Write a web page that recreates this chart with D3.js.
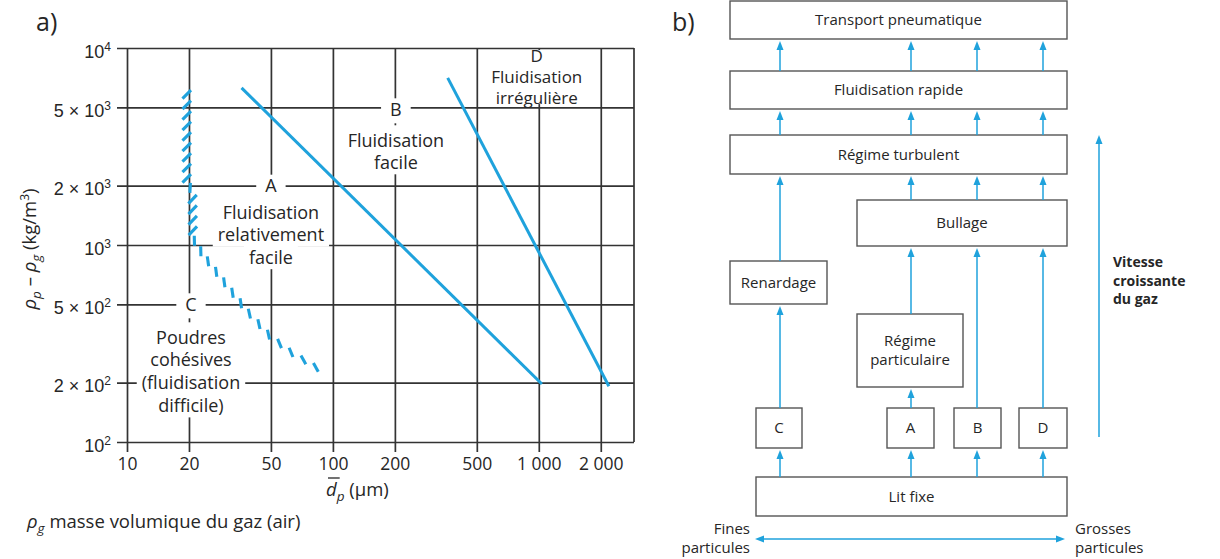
<!DOCTYPE html>
<html>
<head>
<meta charset="utf-8">
<script src="https://cdn.jsdelivr.net/npm/d3@7"></script>
<style>
  body { margin: 0; background: #fff; }
  svg { display: block; font-family: "Open Sans", "Noto Sans", sans-serif; }
</style>
</head>
<body>
<svg id="fig" width="1220" height="559"></svg>
<script>
// ---------- (a) Geldart classification : Δρ versus mean particle size ----------
const xTicks = [10, 20, 50, 100, 200, 500, 1000, 2000];
const xTickLabels = ["10", "20", "50", "100", "200", "500", "1 000", "2 000"];
const yTicks = [1e2, 2e2, 5e2, 1e3, 2e3, 5e3, 1e4];
const yTickMantissa = ["", "2", "5", "", "2", "5", ""];
const yTickExponent = ["2", "2", "2", "3", "3", "3", "4"];

// group boundaries, points as [d_p (µm), ρp − ρg (kg/m3)]
const boundaryAB = [[36, 6270], [1035, 197]];
const boundaryBD = [[361, 7050], [2190, 192]];
const boundaryCA = [[19.5, 6100], [19.5, 2100], [20.8, 1850], [20.9, 1080], [23.4, 890],
                    [26.7, 746], [30.9, 612], [38.3, 462], [49.4, 345], [63.2, 283], [84.5, 236]];

// group labels
const groupLetters = ["A", "B", "C", "D"];
const groupAnchors = [[50, 2000], [200, 5000], [20, 500], [1000, 9100]];
const groupLines = [
  ["Fluidisation", "relativement", "facile"],
  ["Fluidisation", "facile"],
  ["Poudres", "cohésives", "(fluidisation", "difficile)"],
  ["Fluidisation", "irrégulière"]
];

// ---------- (b) regime sequence ----------
const nodeIds = ["tp", "fr", "rt", "bul", "ren", "rp", "C", "A", "B", "D", "lit"];
const nodeLabels = [["Transport pneumatique"], ["Fluidisation rapide"], ["Régime turbulent"],
  ["Bullage"], ["Renardage"], ["Régime", "particulaire"], ["C"], ["A"], ["B"], ["D"], ["Lit fixe"]];
// [from, to, column]
const links = [
  ["lit", "C", "C"], ["lit", "A", "A"], ["lit", "B", "B"], ["lit", "D", "D"],
  ["C", "ren", "C"], ["A", "rp", "A"], ["B", "bul", "B"], ["D", "bul", "D"],
  ["ren", "rt", "C"], ["rp", "bul", "A"],
  ["bul", "rt", "A"], ["bul", "rt", "B"], ["bul", "rt", "D"],
  ["rt", "fr", "C"], ["rt", "fr", "A"], ["rt", "fr", "B"], ["rt", "fr", "D"],
  ["fr", "tp", "C"], ["fr", "tp", "A"], ["fr", "tp", "B"], ["fr", "tp", "D"]
];
const speedLabel = ["Vitesse", "croissante", "du gaz"];
const fineLabel = ["Fines", "particules"];
const coarseLabel = ["Grosses", "particules"];

// ======================================================================
const svg = d3.select("#fig");
const BLUE = "#1fa2dc";
const GRID = "#333";
const TXT = "#262626";

const plot = { left: 127, right: 634, top: 48, bottom: 442 };
const x = d3.scaleLog().domain([10, 2900]).range([plot.left, plot.right]);
const y = d3.scaleLog().domain([100, 10000]).range([plot.bottom, plot.top]);

const ga = svg.append("g");

// panel tag
ga.append("text").attr("x", 36).attr("y", 31).attr("font-size", 25).attr("fill", TXT).text("a)");

// horizontal grid + y ticks
const yAxis = ga.append("g").attr("transform", `translate(${plot.left - 10},0)`)
  .call(d3.axisLeft(y).tickValues(yTicks)
    .tickSizeInner(-(plot.right - plot.left + 10)).tickSizeOuter(0).tickFormat(() => ""));
yAxis.select(".domain").remove();
yAxis.selectAll(".tick line").attr("stroke", GRID).attr("stroke-width", 1.7);
yAxis.selectAll(".tick text").remove();
yAxis.selectAll(".tick").each(function (d, i) {
  const t = d3.select(this).append("text")
    .attr("x", -6).attr("y", 9).attr("text-anchor", "end")
    .attr("font-size", 18).attr("fill", TXT);
  const m = yTickMantissa[i];
  t.append("tspan").text(m ? m + " × 10" : "10");
  t.append("tspan").attr("font-size", 12).attr("dy", -7).text(yTickExponent[i]);
});

// vertical grid + x ticks
const xAxis = ga.append("g").attr("transform", `translate(0,${plot.bottom + 10})`)
  .call(d3.axisBottom(x).tickValues(xTicks)
    .tickSizeInner(-(plot.bottom - plot.top + 10)).tickSizeOuter(0).tickPadding(6)
    .tickFormat((d, i) => xTickLabels[i]));
xAxis.select(".domain").remove();
xAxis.selectAll(".tick line").attr("stroke", GRID).attr("stroke-width", 1.7);
xAxis.selectAll(".tick text").attr("font-size", 17.5).attr("fill", TXT)
  .attr("font-family", "'Open Sans', sans-serif");

// right frame edge
ga.append("line").attr("x1", plot.right).attr("x2", plot.right)
  .attr("y1", plot.top).attr("y2", plot.bottom).attr("stroke", GRID).attr("stroke-width", 1.7);

// group labels with white backing that interrupts the grid
const groupLayout = [
  { fs: 18, dx: 0, letterDy: 0, letterTop: 11, first: 26.5, gap: 22.5, descent: 12 },
  { fs: 18, dx: 1, letterDy: 2, letterTop: 11, first: 31, gap: 22, descent: 12 },
  { fs: 18, dx: 2, letterDy: 0, letterTop: 11, first: 33, gap: 22.7, descent: 12 },
  { fs: 17, dx: -2, letterDy: 0, letterTop: 6, first: 21, gap: 21, descent: 6 }
];
const labelBg = ga.append("g"), labelFg = ga.append("g");
groupLetters.forEach((letter, g) => {
  const L = groupLayout[g];
  const cap = 0.357 * L.fs;
  const cx = x(groupAnchors[g][0]) + L.dx;
  const cy = y(groupAnchors[g][1]) + L.letterDy;
  const lt = labelFg.append("text").attr("x", cx).attr("y", cy + cap)
    .attr("text-anchor", "middle").attr("font-size", L.fs).attr("fill", TXT).text(letter);
  const lw = lt.node().getComputedTextLength();
  labelBg.append("rect").attr("x", cx - lw / 2 - 9).attr("y", cy - L.letterTop)
    .attr("width", lw + 18).attr("height", L.letterTop + 14).attr("fill", "#fff");
  groupLines[g].forEach((line, k) => {
    const ly = cy + L.first + k * L.gap;
    const tt = labelFg.append("text").attr("x", cx).attr("y", ly + cap)
      .attr("text-anchor", "middle").attr("font-size", L.fs).attr("fill", TXT).text(line);
    const w = tt.node().getComputedTextLength();
    labelBg.append("rect").attr("x", cx - w / 2 - 5).attr("y", ly - 15)
      .attr("width", w + 10).attr("height", 15 + L.descent).attr("fill", "#fff");
  });
});

// A/B and B/D boundaries
const line = d3.line().x(d => x(d[0])).y(d => y(d[1]));
[boundaryAB, boundaryBD].forEach(b => {
  ga.append("path").attr("d", line(b)).attr("fill", "none")
    .attr("stroke", BLUE).attr("stroke-width", 3);
});

// C/A boundary drawn as hatch strokes
(function () {
  const pts = boundaryCA.map(d => [x(d[0]), y(d[1])]);
  const segs = [];
  let total = 0;
  for (let i = 0; i < pts.length - 1; i++) {
    const dx = pts[i + 1][0] - pts[i][0], dy = pts[i + 1][1] - pts[i][1];
    const len = Math.hypot(dx, dy);
    segs.push({ p: pts[i], dx, dy, len, s0: total });
    total += len;
  }
  const hatch = [];
  let s = 4;
  while (s <= total) {
    const sg = segs.find(q => s >= q.s0 && s <= q.s0 + q.len) || segs[segs.length - 1];
    const t = (s - sg.s0) / sg.len;
    const px = sg.p[0] + sg.dx * t, py = sg.p[1] + sg.dy * t;
    const theta = Math.atan2(sg.dy, sg.dx);
    const phi = Math.max(1.5 * theta, theta + 30 * Math.PI / 180);
    const half = theta > 1.3 ? 6 : 5;
    hatch.push([px - half * Math.cos(phi), py - half * Math.sin(phi),
                px + half * Math.cos(phi), py + half * Math.sin(phi)]);
    // roughly even vertical pitch, capped along the curve
    s += Math.min(14.5, 10.5 / Math.max(Math.sin(theta), 0.3));
  }
  ga.append("g").selectAll("line").data(hatch).join("line")
    .attr("x1", d => d[0]).attr("y1", d => d[1]).attr("x2", d => d[2]).attr("y2", d => d[3])
    .attr("stroke", BLUE).attr("stroke-width", 3.1);
})();

const TFS = 18.5;
// x axis title  d̄p (µm)
(function () {
  const t = ga.append("text").attr("x", 326).attr("y", 496).attr("font-size", TFS).attr("fill", TXT);
  const d = t.append("tspan").attr("font-style", "italic").text("d");
  t.append("tspan").attr("font-style", "italic").attr("font-size", 13.5).attr("dy", 5).text("p");
  t.append("tspan").attr("dy", -5).text(" (µm)");
  const w = d.node().getComputedTextLength();
  ga.append("line").attr("x1", 328).attr("x2", 326 + w + 3).attr("y1", 478).attr("y2", 478)
    .attr("stroke", TXT).attr("stroke-width", 1.3);
})();

// y axis title  ρp − ρg (kg/m3)
(function () {
  const t = ga.append("text").attr("transform", "translate(36,249) rotate(-90)")
    .attr("text-anchor", "middle").attr("font-size", TFS).attr("fill", TXT);
  t.append("tspan").attr("font-style", "italic").text("ρ");
  t.append("tspan").attr("font-style", "italic").attr("font-size", 13.5).attr("dy", 5).text("p");
  t.append("tspan").attr("dy", -5).text(" – ");
  t.append("tspan").attr("font-style", "italic").text("ρ");
  t.append("tspan").attr("font-style", "italic").attr("font-size", 13.5).attr("dy", 5).text("g");
  t.append("tspan").attr("dy", -5).text(" (kg/m");
  t.append("tspan").attr("font-size", 12).attr("dy", -7).text("3");
  t.append("tspan").attr("dy", 7).text(")");
})();

// footnote
(function () {
  const t = ga.append("text").attr("x", 27).attr("y", 528).attr("font-size", TFS).attr("fill", TXT);
  t.append("tspan").attr("font-style", "italic").text("ρ");
  t.append("tspan").attr("font-style", "italic").attr("font-size", 13.5).attr("dy", 5).text("g");
  t.append("tspan").attr("dy", -5).text(" masse volumique du gaz (air)");
})();

// ======================================================================
// (b) regime diagram
const gb = svg.append("g");
gb.append("text").attr("x", 672).attr("y", 31).attr("font-size", 25).attr("fill", TXT).text("b)");

const boxLayout = {
  tp: [730, 1, 1067, 39], fr: [730, 71, 1067, 109], rt: [730, 135, 1067, 174],
  bul: [857, 200, 1067, 246], ren: [730, 261, 827, 304], rp: [857, 314, 963, 387],
  C: [756, 408, 802, 448], A: [887, 408, 934, 448], B: [954, 408, 1001, 448],
  D: [1019, 408, 1067, 448], lit: [756, 477, 1067, 516]
};
const columnX = { C: 780, A: 911, B: 977, D: 1043 };
const BFS = 15;

nodeIds.forEach((id, i) => {
  const [x0, y0, x1, y1] = boxLayout[id];
  gb.append("rect").attr("x", x0).attr("y", y0).attr("width", x1 - x0).attr("height", y1 - y0)
    .attr("fill", "#fff").attr("stroke", "#555").attr("stroke-width", 1.4);
  const lines = nodeLabels[i];
  const cy = (y0 + y1) / 2, lh = 19;
  lines.forEach((txt, k) => {
    const ly = cy + (k - (lines.length - 1) / 2) * lh;
    gb.append("text").attr("x", (x0 + x1) / 2).attr("y", ly + 0.36 * BFS)
      .attr("text-anchor", "middle").attr("font-size", BFS).attr("fill", TXT).text(txt);
  });
});

function upArrow(g, cx, yFrom, yTip, hw, hl) {
  g.append("line").attr("x1", cx).attr("x2", cx).attr("y1", yFrom).attr("y2", yTip + hl - 1)
    .attr("stroke", BLUE).attr("stroke-width", 1.5);
  g.append("path").attr("d", `M${cx},${yTip}L${cx - hw},${yTip + hl}L${cx + hw},${yTip + hl}Z`)
    .attr("fill", BLUE);
}

links.forEach(([from, to, col]) => {
  upArrow(gb, columnX[col], boxLayout[from][1], boxLayout[to][3] + 2, 3.5, 9);
});

// increasing gas velocity arrow
upArrow(gb, 1099, 437, 135, 3.5, 9);
speedLabel.forEach((t, k) => {
  gb.append("text").attr("x", 1113).attr("y", 267 + k * 18.5).attr("font-size", 14)
    .attr("font-weight", "bold").attr("fill", TXT).text(t);
});

// particle size axis (double arrow)
(function () {
  const yA = 539, xa = 755, xb = 1065, hw = 3.5, hl = 9;
  gb.append("line").attr("x1", xa + hl - 1).attr("x2", xb - hl + 1).attr("y1", yA).attr("y2", yA)
    .attr("stroke", BLUE).attr("stroke-width", 1.5);
  gb.append("path").attr("d", `M${xa},${yA}L${xa + hl},${yA - hw}L${xa + hl},${yA + hw}Z`).attr("fill", BLUE);
  gb.append("path").attr("d", `M${xb},${yA}L${xb - hl},${yA - hw}L${xb - hl},${yA + hw}Z`).attr("fill", BLUE);
  fineLabel.forEach((t, k) => gb.append("text").attr("x", 750).attr("y", 534 + k * 19)
    .attr("text-anchor", "end").attr("font-size", BFS).attr("fill", TXT).text(t));
  coarseLabel.forEach((t, k) => gb.append("text").attr("x", 1075).attr("y", 534 + k * 19)
    .attr("font-size", BFS).attr("fill", TXT).text(t));
})();
</script>
</body>
</html>
